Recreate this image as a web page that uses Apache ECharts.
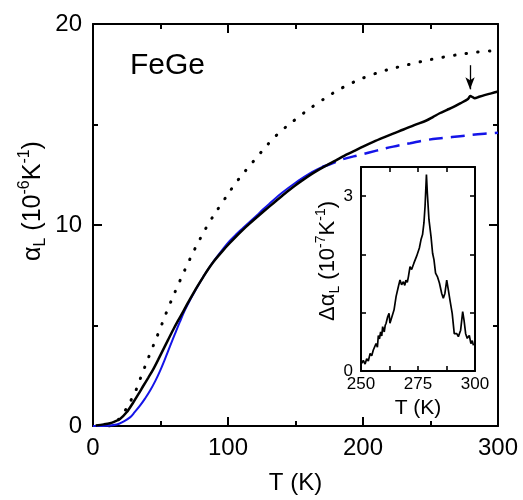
<!DOCTYPE html>
<html>
<head>
<meta charset="utf-8">
<script src="https://cdn.jsdelivr.net/npm/echarts@6/dist/echarts.min.js"></script>
<style>
html,body{margin:0;padding:0;background:#fff;}
#chart{width:523px;height:500px;}
</style>
</head>
<body>
<div id="chart"></div>
<script>
// ---- Main panel data (T in K, alpha_L in 1e-6 K^-1) ----
var measT = [2, 8, 12.6, 16, 20, 24.9, 29.8, 33.5, 37.2, 41, 44.6, 48.3, 52, 55.7, 59.4, 63, 66.8, 70.5, 74.2, 78, 81.6, 85.3, 89, 92.7, 96.4, 101, 106.3, 111, 116.2, 123.7, 131, 137, 143.5, 150, 155, 160.7, 167, 173, 180, 186, 192.8, 200, 208, 215, 222.3, 230, 238, 247, 252, 256.8, 262, 266.7, 272, 277.8, 279.5, 281.2, 282.7, 286, 290, 295, 300];
var measVal = [0.02, 0.08, 0.14, 0.22, 0.35, 0.68, 1.17, 1.57, 1.99, 2.41, 2.82, 3.30, 3.80, 4.30, 4.79, 5.24, 5.69, 6.15, 6.59, 7.02, 7.41, 7.80, 8.15, 8.45, 8.74, 9.08, 9.45, 9.76, 10.08, 10.52, 10.94, 11.28, 11.64, 11.98, 12.22, 12.48, 12.74, 12.97, 13.22, 13.44, 13.66, 13.90, 14.15, 14.35, 14.55, 14.75, 14.97, 15.20, 15.38, 15.56, 15.72, 15.86, 16.05, 16.27, 16.42, 16.36, 16.31, 16.38, 16.46, 16.55, 16.64];

var fitT = [0, 5, 10, 17.5, 22, 27.4, 31, 34.8, 38.5, 42.2, 46, 49.6, 53.3, 57, 60.7, 64.4, 68, 71.8, 76.7, 81.6, 86.5, 91.5, 96.5, 101.4, 106.3, 111.3, 116.2, 121.1, 126, 131, 140, 150, 160, 172];
var fitVal = [0, 0.0, 0.01, 0.07, 0.2, 0.43, 0.70, 1.01, 1.36, 1.75, 2.22, 2.73, 3.33, 3.96, 4.58, 5.19, 5.75, 6.26, 6.85, 7.41, 7.92, 8.39, 8.83, 9.22, 9.55, 9.86, 10.16, 10.46, 10.78, 11.08, 11.60, 12.10, 12.55, 12.95];

var extT = [170, 175.5, 185, 197.8, 210, 222.4, 235, 247.2, 260, 271.9, 285, 300];
var extVal = [12.9, 13.02, 13.27, 13.49, 13.70, 13.90, 14.07, 14.23, 14.33, 14.42, 14.51, 14.59];

var dotT = [12, 16, 19.5, 23.7, 28.6, 32.3, 35.3, 42.2, 48.9, 55.3, 62.4, 69.8, 77.5, 86.1, 96.5, 107, 118.7, 123.7, 136, 150.9, 165.7, 185.4, 207.6, 234.8, 259.5, 284.2, 300];
var dotVal = [0, 0.1, 0.38, 0.76, 1.34, 1.86, 2.40, 3.59, 4.70, 5.80, 6.92, 8.02, 9.08, 10.12, 11.19, 12.2, 13.16, 13.56, 14.47, 15.30, 16.03, 16.85, 17.50, 18.00, 18.35, 18.60, 18.68];

var arrowT = 279.3;
var arrowFrom = 17.95;
var arrowTo = 16.75;

// ---- Inset data (T in K, delta alpha_L in 1e-7 K^-1) ----
var insT = [250.3, 251, 251.8, 252.5, 253.2, 254, 254.7, 255.4, 256, 256.6, 257.2, 257.6, 258.1, 258.6, 259.1, 259.5, 260.2, 260.6, 261, 261.7, 262.3, 262.7, 263.5, 264.5, 265.4, 266.4, 267.1, 267.8, 268.6, 269.2, 269.7, 270.3, 270.8, 271.5, 272.2, 273.2, 274.4, 275.6, 276.3, 277, 277.6, 278.1, 278.7, 279.1, 279.8, 280.7, 281.4, 282, 282.7, 283.5, 284.4, 285.4, 286.1, 286.8, 287.6, 288.3, 289, 290, 290.9, 292, 292.7, 293.7, 294.6, 295.2, 295.9, 296.6, 297.5, 298.2, 298.8, 299.3];
var insVal = [0.13, 0.18, 0.12, 0.21, 0.17, 0.30, 0.26, 0.36, 0.33, 0.47, 0.41, 0.61, 0.55, 0.67, 0.60, 0.76, 0.67, 0.78, 0.82, 0.93, 0.99, 0.82, 0.79, 1.05, 1.28, 1.45, 1.56, 1.48, 1.53, 1.47, 1.56, 1.52, 1.62, 1.79, 1.74, 1.85, 1.97, 2.11, 2.25, 2.34, 2.54, 2.83, 3.37, 3.05, 2.60, 2.31, 2.02, 1.91, 1.68, 1.62, 1.51, 1.33, 1.25, 1.33, 1.56, 1.39, 1.22, 0.99, 0.64, 0.64, 0.59, 0.70, 1.02, 0.87, 0.64, 0.56, 0.61, 0.47, 0.52, 0.44];

function zip(a, b) { return a.map(function (v, i) { return [v, b[i]]; }); }

var FONT = '"Liberation Sans", Arial, sans-serif';
var BLUE = '#1414e8';

var chart = echarts.init(document.getElementById('chart'), null, {renderer: 'canvas'});

function frameAxis(extra) {
  var base = {
    axisLine: {show: true, onZero: false, lineStyle: {color: '#000', width: 2}},
    axisTick: {show: true, inside: true, length: 9, lineStyle: {color: '#000', width: 2}},
    minorTick: {show: true, splitNumber: 2, length: 5, lineStyle: {color: '#000', width: 2}},
    splitLine: {show: false},
    minorSplitLine: {show: false},
    axisLabel: {show: false}
  };
  return Object.assign(base, extra);
}

var insetTick = {show: true, inside: true, length: 5, lineStyle: {color: '#000', width: 1.6}};

var option = {
  animation: false,
  backgroundColor: '#fff',
  grid: [
    {left: 93, right: 25, top: 24, bottom: 70},
    {left: 361, right: 48, top: 167, bottom: 129, show: true, backgroundColor: '#fff', borderWidth: 0}
  ],
  xAxis: [
    frameAxis({gridIndex: 0, type: 'value', position: 'bottom', min: 0, max: 300, interval: 100,
      axisLabel: {show: true, margin: 10, fontSize: 24, color: '#000', fontFamily: FONT},
      name: 'T (K)', nameLocation: 'middle', nameGap: 45,
      nameTextStyle: {fontSize: 24, color: '#000', fontFamily: FONT, verticalAlign: 'top'}}),
    frameAxis({gridIndex: 0, type: 'value', position: 'top', min: 0, max: 300, interval: 100}),
    frameAxis({gridIndex: 1, type: 'value', position: 'bottom', min: 250, max: 300, interval: 12.5,
      axisTick: insetTick, minorTick: {show: false},
      axisLabel: {show: true, margin: 5, fontSize: 17, color: '#000', fontFamily: FONT,
        formatter: function (v) { return (v % 25 === 0) ? String(v) : ''; }},
      name: 'T (K)', nameLocation: 'middle', nameGap: 27,
      nameTextStyle: {fontSize: 21, color: '#000', fontFamily: FONT, verticalAlign: 'top'}}),
    frameAxis({gridIndex: 1, type: 'value', position: 'top', min: 250, max: 300, interval: 12.5,
      axisTick: insetTick, minorTick: {show: false}})
  ],
  yAxis: [
    frameAxis({gridIndex: 0, type: 'value', position: 'left', min: 0, max: 20, interval: 10,
      axisLabel: {show: true, margin: 11, fontSize: 24, color: '#000', fontFamily: FONT}}),
    frameAxis({gridIndex: 0, type: 'value', position: 'right', min: 0, max: 20, interval: 10}),
    frameAxis({gridIndex: 1, type: 'value', position: 'left', min: 0, max: 3.5, interval: 1,
      axisTick: insetTick, minorTick: {show: false},
      axisLabel: {show: true, margin: 8, fontSize: 17, color: '#000', fontFamily: FONT,
        formatter: function (v) { return (v === 0 || v === 3) ? String(v) : ''; }}}),
    frameAxis({gridIndex: 1, type: 'value', position: 'right', min: 0, max: 3.5, interval: 1,
      axisTick: insetTick, minorTick: {show: false}})
  ],
  series: [
    {type: 'line', xAxisIndex: 0, yAxisIndex: 0, data: zip(dotT, dotVal), smooth: 0.4, showSymbol: false,
      lineStyle: {color: '#000', width: 3, type: [0.5, 11.2], cap: 'round'}},
    {type: 'line', xAxisIndex: 0, yAxisIndex: 0, data: zip(fitT, fitVal), smooth: 0.4, showSymbol: false,
      lineStyle: {color: BLUE, width: 2}},
    {type: 'line', xAxisIndex: 0, yAxisIndex: 0, data: zip(extT, extVal), smooth: 0.4, showSymbol: false,
      lineStyle: {color: BLUE, width: 2.5, type: [14, 8]}},
    {type: 'line', xAxisIndex: 0, yAxisIndex: 0, data: zip(measT, measVal), smooth: 0.3, showSymbol: false,
      lineStyle: {color: '#000', width: 2.5},
      markLine: {silent: true, symbol: ['none', 'arrow'], symbolSize: [7, 12],
        lineStyle: {color: '#000', width: 1.3, type: 'solid'}, label: {show: false},
        data: [[{coord: [arrowT, arrowFrom]}, {coord: [arrowT, arrowTo]}]]}},
    {type: 'line', xAxisIndex: 2, yAxisIndex: 2, data: zip(insT, insVal), showSymbol: false,
      lineStyle: {color: '#000', width: 1.7}}
  ],
  graphic: [
    {type: 'text', left: 130, top: 51, style: {text: 'FeGe', font: '30px ' + FONT, fill: '#000'}},
    {type: 'text', x: 33, y: 201, rotation: Math.PI / 2,
      style: {text: '{a|α}{sub|L}{a| (10}{sup|-6}{a|K}{sup|-1}{a|)}', align: 'center', verticalAlign: 'middle',
        rich: {
          a: {fontSize: 25, fontFamily: FONT, fill: '#000', lineHeight: 32},
          sub: {fontSize: 16, fontFamily: FONT, fill: '#000', lineHeight: 16, verticalAlign: 'bottom'},
          sup: {fontSize: 16, fontFamily: FONT, fill: '#000', lineHeight: 16, verticalAlign: 'top'}
        }}},
    {type: 'text', x: 328, y: 261, rotation: Math.PI / 2,
      style: {text: '{a|Δα}{sub|L}{a| (10}{sup|-7}{a|K}{sup|-1}{a|)}', align: 'center', verticalAlign: 'middle',
        rich: {
          a: {fontSize: 22, fontFamily: FONT, fill: '#000', lineHeight: 28},
          sub: {fontSize: 14, fontFamily: FONT, fill: '#000', lineHeight: 14, verticalAlign: 'bottom'},
          sup: {fontSize: 14, fontFamily: FONT, fill: '#000', lineHeight: 14, verticalAlign: 'top'}
        }}}
  ]
};
chart.setOption(option);
</script>
</body>
</html>
